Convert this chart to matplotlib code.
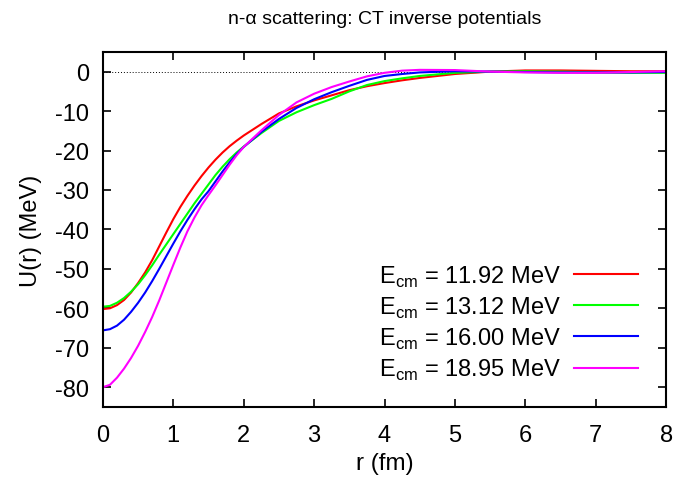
import numpy as np
import matplotlib
matplotlib.use("Agg")
import matplotlib.pyplot as plt

plt.rcParams['font.family'] = ['Liberation Sans', 'DejaVu Sans']
plt.rcParams['mathtext.fontset'] = 'custom'
plt.rcParams['mathtext.rm'] = 'Liberation Sans'
plt.rcParams['axes.unicode_minus'] = False
plt.rcParams['font.size'] = 17

# r grid (fm) and potentials (MeV)
r = [0, 0.1, 0.2, 0.3, 0.4, 0.5, 0.6, 0.7, 0.8, 0.9, 1.0, 1.1, 1.2, 1.3, 1.4,
     1.5, 1.6, 1.7, 1.8, 1.9, 2.0, 2.25, 2.5, 2.75, 3.0, 3.25, 3.5, 3.75,
     4.0, 4.25, 4.5, 5.0, 5.5, 6.0, 6.5, 7.0, 7.5, 8.0]

u_1192 = [-60.2, -60.0, -59.2, -57.9, -56.0, -53.6, -50.9, -47.8, -44.3, -40.8,
          -37.4, -34.3, -31.5, -28.9, -26.5, -24.3, -22.3, -20.5, -18.9, -17.5,
          -16.2, -13.3, -10.6, -8.8, -7.3, -6.0, -4.7, -3.7, -2.9, -2.2,
          -1.6, -0.6, 0.0, 0.3, 0.3, 0.2, 0.1, 0.1]
u_1312 = [-59.6, -59.4, -58.6, -57.4, -55.8, -53.9, -51.6, -49.1, -46.4, -43.8,
          -41.2, -38.6, -36.0, -33.4, -31.0, -28.6, -26.2, -24.1, -22.2, -20.5,
          -19.0, -15.6, -12.5, -10.3, -8.5, -6.9, -5.0, -3.4, -2.4, -1.7,
          -1.1, -0.3, 0.0, 0.1, 0.0, -0.2, -0.3, -0.3]
u_1600 = [-65.6, -65.3, -64.4, -62.9, -60.9, -58.6, -56.0, -53.1, -50.0, -46.8,
          -43.6, -40.5, -37.6, -34.9, -32.4, -30.3, -27.8, -25.3, -23.0, -20.9,
          -19.1, -15.3, -12.0, -9.2, -7.0, -5.2, -3.6, -2.1, -1.1, -0.6,
          -0.2, 0.1, 0.0, -0.1, -0.2, -0.2, -0.2, -0.1]
u_1895 = [-80.0, -79.4, -77.6, -75.3, -72.6, -69.5, -66.0, -62.2, -58.0, -53.5,
          -49.0, -44.6, -40.5, -37.0, -33.9, -31.3, -28.8, -26.2, -23.6, -21.2,
          -19.1, -14.9, -11.0, -7.8, -5.6, -3.9, -2.5, -1.2, -0.3, 0.25,
          0.45, 0.4, 0.0, -0.2, -0.3, -0.3, -0.1, 0.1]

energies = ["11.92", "13.12", "16.00", "18.95"]
colors = ["#ff0000", "#00ff00", "#0000ff", "#ff00ff"]

fig = plt.figure(figsize=(6.77, 4.81), dpi=100)
ax = fig.add_axes([0.152, 0.152, 0.832, 0.738])

# dotted zero line
ax.axhline(0, color="black", lw=0.7, ls=(0, (1, 2)))

for u, e, c in zip([u_1192, u_1312, u_1600, u_1895], energies, colors):
    ax.plot(r, u, color=c, lw=1.5,
            label=r"E$_{\mathrm{cm}}$ = " + e + " MeV")

ax.set_xlim(0, 8)
ax.set_ylim(-85, 5)
ax.set_xticks(np.arange(0, 9, 1))
ax.set_yticks(np.arange(-80, 1, 10))

for s in ax.spines.values():
    s.set_linewidth(1.5)
ax.tick_params(direction="in", length=6, width=1.2, top=True, right=True)
ax.tick_params(axis="x", pad=12)
ax.tick_params(axis="y", pad=10)

ax.set_title("n-α scattering: CT inverse potentials", fontsize=14, pad=21)
ax.set_xlabel("r (fm)", fontsize=17.5, labelpad=5)
ax.set_ylabel("U(r) (MeV)", fontsize=17, labelpad=9)

ax.legend(loc="lower right", bbox_to_anchor=(0.95, 0.07), frameon=False,
          markerfirst=False, fontsize=17, handlelength=2.7,
          labelspacing=0.25, handletextpad=0.55, borderpad=0, borderaxespad=0)

fig.savefig("out.png", dpi=100)
